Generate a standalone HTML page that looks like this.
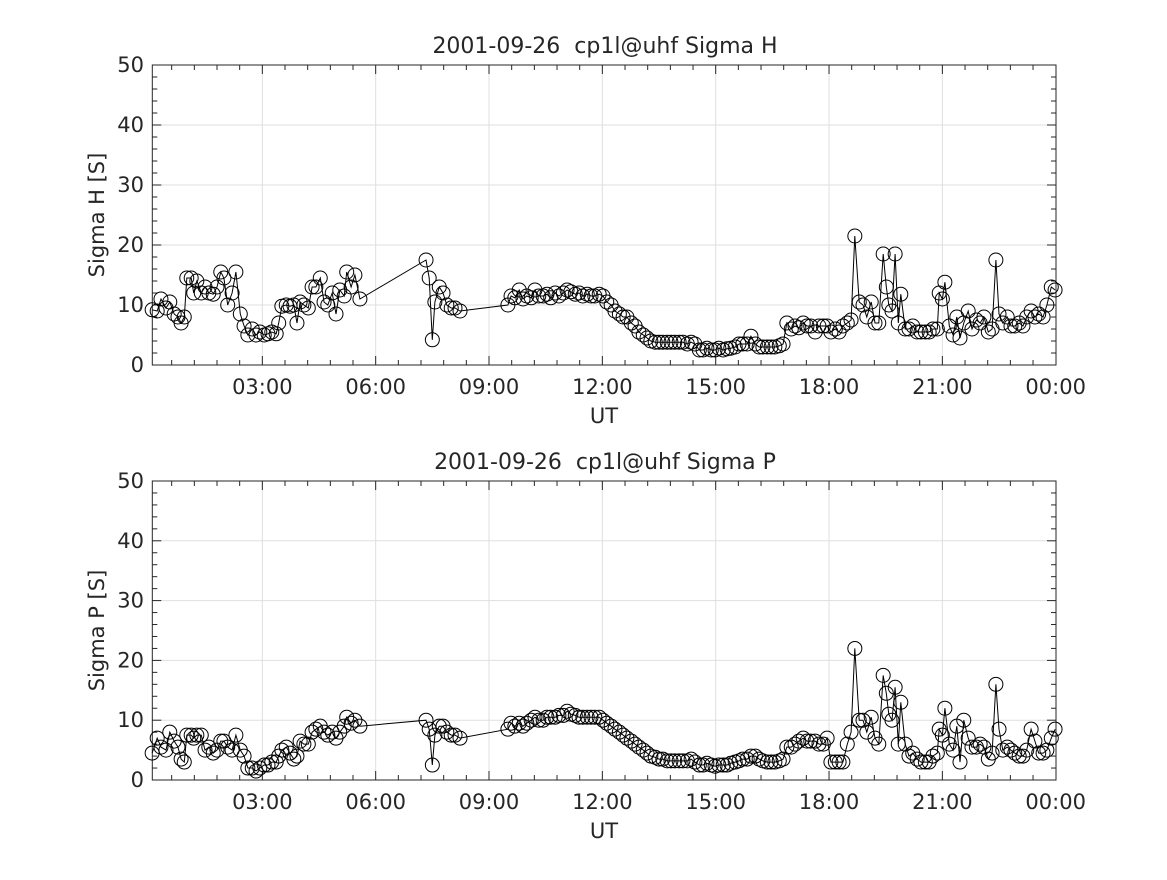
<!DOCTYPE html>
<html><head><meta charset="utf-8"><style>
body{margin:0;background:#fff;}
svg text{font-family:"DejaVu Sans","Liberation Sans",sans-serif;fill:#262626;}
</style></head><body>
<svg id="fig" width="1167" height="875" xmlns="http://www.w3.org/2000/svg"></svg>
<script>
// shared sample times, minutes since midnight
const timesMin=[5,13,19,27,33,40,46,51,56,60,67,71,76,83,89,95,102,108,114,119,125,132,138,145,151,157,164,170,176,183,189,195,202,206,211,218,224,230,235,240,246,253,259,265,272,278,284,291,297,303,310,314,321,327,335,
440,445,450,454,461,467,473,480,486,494,
570,575,581,588,594,600,607,613,619,626,632,638,645,651,658,664,670,677,683,689,696,702,708,715,721,727,734,740,747,753,759,766,772,778,785,791,797,804,810,816,823,829,835,842,848,855,861,867,874,880,886,893,899,905,912,918,924,931,937,943,950,956,963,969,975,982,988,994,1001,1007,1013,1020,1026,1032,1039,1045,1051,1058,1064,1071,1077,1083,1090,1096,1102,1109,1115,1121,1128,1134,1140,1147,1153,1159,1166,1171,1175,1180,1185,1190,1194,1201,1207,1213,1220,1226,1233,1239,1245,1252,1255,1260,1264,1271,1277,1283,1288,1294,1301,1307,1314,1320,1326,1333,1339,1345,1350,1356,1363,1369,1375,1382,1388,1394,1401,1407,1413,1420,1426,1433,1439];
const sigmaH=[9.2,9,11,9.5,10.5,8.5,8,7,8,14.5,14.5,12,14,12,13,12,11.8,13,15.5,14.5,10,12,15.5,8.5,6.5,5,6,5,5.5,5,5.2,5.5,5.2,7,9.8,10,9.8,10,7,10.5,10,9.5,13,13,14.5,10.5,10,12,8.5,12.5,11.5,15.5,13,15,11,
17.5,14.5,4.2,10.5,13,12,10,9.5,9.5,9,
10,11.5,11.2,12.5,11,11.5,11.2,12.5,11.5,11.5,11.8,11.2,12,11.5,12,12.5,12.2,11.8,12,11.5,11.8,11.5,11.5,11.8,11.5,10.5,10,9,8.5,8,8,7,6.5,5.5,5,4.5,4,3.8,3.8,3.8,3.8,3.8,3.8,3.8,3.8,3.5,3.8,3.5,2.5,2.5,2.8,2.5,2.5,2.8,2.5,2.7,2.8,3,3.5,3.5,3.5,4.8,3.5,3,3,3,3,3,3.2,3.5,7,6,6.5,6.2,7,6.5,6.5,5.5,6.5,6.5,6.5,5.5,6,5.5,6.5,7,7.5,21.5,10.5,10,8,10.5,7,7,18.5,13,10,9,18.5,7,11.8,6,6,6.5,5.5,5.5,5.5,5.5,6,6,12,11,13.8,6.5,5,8,4.5,7,9,6,7.5,7,8,5.5,6,17.5,8.5,7,8,6.5,6.5,7,6.5,8,9,8,8.5,8,10,13,12.5];
const sigmaP=[4.5,7,5.5,5,8,6.5,5.5,3.5,3,7.5,7.5,7,7.5,7.5,5,5.5,4.5,5,6.5,6.5,5.5,5,7.5,5,4,2,2,1.5,2,2.5,2.5,3,3,4,5,5.5,4.5,3.5,4,6.5,6,6,8,8.5,9,8,7.5,8,7,8,9,10.5,9.5,10,9,
10,8.5,2.5,7.5,9,9,8,7.5,7.5,7,
8.5,9.5,9,9.5,9,9.5,10,10.5,10,10,10.5,10.5,10.5,10.8,10.8,11.5,11,10.8,10.5,10.5,10.5,10.5,10.5,10.5,10,9.5,9,8.5,8,7.5,7,6.5,6,5.5,5,4.5,4,3.8,3.5,3.5,3.2,3.2,3.2,3.2,3.2,3.2,3.5,3,2.5,2.5,2.8,2.5,2.3,2.5,2.5,2.5,2.8,3,3.2,3.5,3.5,4,4,3.5,3.2,3,3,3,3.2,3.5,5.5,5.5,6,6.5,7,6.5,6.5,6.5,6,6,7,3,3,3,3,6,8,22,10,10,8,10.5,7,6,17.5,14.5,11,10,15.5,6,13,6,4,4.5,3.5,3,3,3,4,4.5,8.5,7.5,12,6,5,9,3,10,7,5.5,5.5,6,5.5,3.5,4.5,16,8.5,5,5.5,5,4.5,4,4,5,8.5,6.5,4.5,4.5,5,7,8.5];
const xTickLabels=["03:00","06:00","09:00","12:00","15:00","18:00","21:00","00:00"];
const xTickMin=[180,360,540,720,900,1080,1260,1440];
const yTicks=[0,10,20,30,40,50];

const NS="http://www.w3.org/2000/svg";
const svg=document.getElementById('fig');
function el(tag,attrs,parent){const e=document.createElementNS(NS,tag);for(const k in attrs)e.setAttribute(k,attrs[k]);(parent||svg).appendChild(e);return e;}
const L=152.3,R=1056,X0=149,PXMIN=906.7/1440;
const xs=m=>X0+m*PXMIN;

function panel(top,bottom,title,ylabel,vals,key){
  const g=el('g',{});
  
  
  const ys=v=>bottom-(v/50)*(bottom-top);
  xTickMin.forEach(m=>{const x=xs(m);if(x<R-1)el('line',{x1:x,x2:x,y1:top,y2:bottom,stroke:'#dfdfdf','stroke-width':1},g);});
  yTicks.forEach(v=>{if(v>0&&v<50)el('line',{x1:L,x2:R,y1:ys(v),y2:ys(v),stroke:'#dfdfdf','stroke-width':1},g);});
  for(let m=180-36*5;m<=1440;m+=36){const x=xs(m);if(x<=L+1||x>=R-1)continue;const major=(m%180===0);const len=major?9:5;
    el('line',{x1:x,x2:x,y1:bottom,y2:bottom-len,stroke:'#262626'},g);el('line',{x1:x,x2:x,y1:top,y2:top+len,stroke:'#262626'},g);}
  for(let v=2;v<50;v+=2){const y=ys(v);const len=(v%10===0)?9:5;
    el('line',{x1:L,x2:L+len,y1:y,y2:y,stroke:'#262626'},g);el('line',{x1:R,x2:R-len,y1:y,y2:y,stroke:'#262626'},g);}
  const box=el('rect',{x:L,y:top,width:R-L,height:bottom-top,fill:'none',stroke:'#262626','stroke-width':1},g);
  
  
  yTicks.forEach(v=>{const t=el('text',{x:144,y:ys(v)+7,'text-anchor':'end','font-size':21},g);t.textContent=v;
    
    });
  xTickLabels.forEach((s,i)=>{const t=el('text',{x:xs(xTickMin[i]),y:bottom+29,'text-anchor':'middle','font-size':21},g);t.textContent=s;
    
    });
  const xt=el('text',{x:604,y:bottom+58,'text-anchor':'middle','font-size':21},g);xt.textContent='UT';
  
  
  const yt=el('text',{x:0,y:0,'text-anchor':'middle','font-size':21,transform:`translate(104,${(top+bottom)/2}) rotate(-90)`},g);yt.textContent=ylabel;
  
  
  const tt=el('text',{x:605,y:top-12,'text-anchor':'middle','font-size':22},g);tt.textContent=title;tt.setAttribute('xml:space','preserve');tt.style.whiteSpace='pre';
  
  
  const pts=timesMin.map((m,i)=>xs(m).toFixed(1)+','+ys(vals[i]).toFixed(1)).join(' ');
  const pl=el('polyline',{points:pts,fill:'none',stroke:'#000','stroke-width':1},g);
  
  
  timesMin.forEach((m,i)=>{const c=el('circle',{cx:xs(m),cy:ys(vals[i]),r:7,fill:'none',stroke:'#000','stroke-width':1},g);
    
    });
}
panel(65,365,'2001-09-26  cp1l@uhf Sigma H','Sigma H [S]',sigmaH,'sigma-h');
panel(481,780,'2001-09-26  cp1l@uhf Sigma P','Sigma P [S]',sigmaP,'sigma-p');
</script>
</body></html>
